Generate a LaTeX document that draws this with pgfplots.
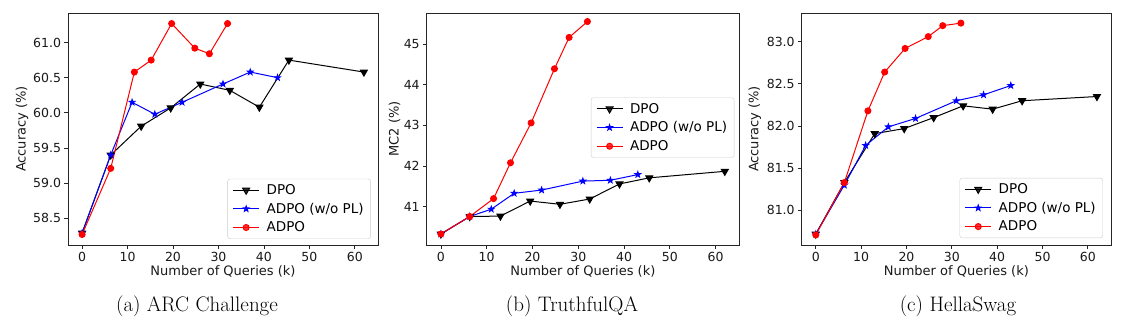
\documentclass[border=0pt]{standalone}
\usepackage{pgfplots}
\pgfplotsset{compat=1.18}
\usepackage{fontspec}
\newfontfamily\dejavu{DejaVu Sans}
\pgfdeclareplotmark{fstar}{%
 \pgfpathmoveto{\pgfpointpolar{90}{\pgfplotmarksize}}%
 \pgfpathlineto{\pgfpointpolar{126}{0.4\pgfplotmarksize}}%
 \pgfpathlineto{\pgfpointpolar{162}{\pgfplotmarksize}}%
 \pgfpathlineto{\pgfpointpolar{198}{0.4\pgfplotmarksize}}%
 \pgfpathlineto{\pgfpointpolar{234}{\pgfplotmarksize}}%
 \pgfpathlineto{\pgfpointpolar{270}{0.4\pgfplotmarksize}}%
 \pgfpathlineto{\pgfpointpolar{306}{\pgfplotmarksize}}%
 \pgfpathlineto{\pgfpointpolar{342}{0.4\pgfplotmarksize}}%
 \pgfpathlineto{\pgfpointpolar{18}{\pgfplotmarksize}}%
 \pgfpathlineto{\pgfpointpolar{54}{0.4\pgfplotmarksize}}%
 \pgfpathclose
 \pgfusepathqfillstroke}
\pgfplotsset{
  panel/.style={
    scale only axis, height=232pt,
    xmin=-3.1, xmax=65.1, xtick={0,10,...,60},
    axis line style={line width=0.8pt, black!85},
    tick align=outside, tick pos=left,
    major tick length=3.5pt, tick style={line width=0.8pt, black!85},
    /pgf/number format/assume math mode=true,
    tick label style={font=\dejavu\fontsize{12.5}{14}\selectfont, black!90},
    label style={font=\dejavu\fontsize{13}{15}\selectfont, black!90},
    xlabel={Number of Queries (k)},
    xlabel style={at={(axis description cs:0.5,-0.116)}, anchor=center},
    legend cell align=left,
    legend image code/.code={\draw[mark repeat=2,mark phase=2] plot coordinates {(0pt,0pt) (13pt,0pt) (26pt,0pt)};},
    legend style={font=\dejavu\fontsize{13.5}{15}\selectfont, draw=black!20, rounded corners=2.5pt,
       fill=white, fill opacity=0.8, text opacity=1, row sep=3pt, inner xsep=5pt, inner ysep=3.5pt,
       /tikz/every odd column/.append style={column sep=5pt}},
  },
  dpo/.style={black, line width=1pt, mark=triangle*, mark size=4pt, mark options={rotate=180, solid}},
  adpowo/.style={blue, line width=1pt, mark=fstar, mark size=2.9pt, mark options={solid}},
  adpo/.style={red, line width=1pt, mark=*, mark size=3pt, mark options={solid}},
}
\begin{document}
\begin{tikzpicture}
\useasboundingbox (0pt,0pt) rectangle (1143pt,330pt);
% (a) ARC Challenge
\begin{axis}[panel, at={(68pt,85pt)}, anchor=south west, width=310pt,
  ymin=58.12, ymax=61.42, ytick={58.5,59.0,59.5,60.0,60.5,61.0},
  yticklabel style={/pgf/number format/.cd, fixed, fixed zerofill, precision=1},
  ylabel={Accuracy (\%)},
  ylabel style={at={(axis description cs:-0.148,0.5)}, anchor=center},
  legend style={at={(axis description cs:0.977,0.026)}, anchor=south east}]
\addplot[dpo] coordinates {(0,58.29) (6.3,59.40) (13,59.81) (19.5,60.07) (26,60.41) (32.5,60.32) (39,60.08) (45.5,60.75) (62,60.58)};
\addplot[adpowo] coordinates {(0,58.29) (6.3,59.40) (11,60.15) (16,59.98) (22,60.15) (31,60.41) (37,60.58) (43,60.50)};
\addplot[adpo] coordinates {(0,58.27) (6.3,59.21) (11.5,60.58) (15.2,60.75) (19.7,61.27) (24.8,60.92) (28,60.84) (32,61.27)};
\legend{DPO, ADPO (w/o PL), ADPO}
\end{axis}
% (b) TruthfulQA
\begin{axis}[panel, at={(426.7pt,85pt)}, anchor=south west, width=312.3pt,
  ymin=40.06, ymax=45.76, ytick={41,42,43,44,45},
  ylabel={MC2 (\%)},
  ylabel style={at={(axis description cs:-0.103,0.5)}, anchor=center},
  legend style={at={(axis description cs:0.985,0.506)}, anchor=east}]
\addplot[dpo] coordinates {(0,40.33) (6.3,40.76) (13,40.77) (19.5,41.14) (26,41.06) (32.5,41.19) (39,41.56) (45.5,41.71) (62,41.87)};
\addplot[adpowo] coordinates {(0,40.33) (6.3,40.76) (11,40.94) (16,41.33) (22,41.41) (31,41.63) (37,41.65) (43,41.79)};
\addplot[adpo] coordinates {(0,40.33) (6.3,40.76) (11.5,41.20) (15.2,42.08) (19.7,43.06) (24.8,44.39) (28,45.16) (32,45.55)};
\legend{DPO, ADPO (w/o PL), ADPO}
\end{axis}
% (c) HellaSwag
\begin{axis}[panel, at={(801.7pt,85pt)}, anchor=south west, width=309.3pt,
  ymin=80.59, ymax=83.34, ytick={81.0,81.5,82.0,82.5,83.0},
  yticklabel style={/pgf/number format/.cd, fixed, fixed zerofill, precision=1},
  ylabel={Accuracy (\%)},
  ylabel style={at={(axis description cs:-0.152,0.5)}, anchor=center},
  legend style={at={(axis description cs:0.974,0.03)}, anchor=south east}]
\addplot[dpo] coordinates {(0,80.72) (6.3,81.33) (13,81.91) (19.5,81.97) (26,82.10) (32.5,82.24) (39,82.20) (45.5,82.30) (62,82.35)};
\addplot[adpowo] coordinates {(0,80.72) (6.3,81.30) (11,81.77) (16,81.99) (22,82.09) (31,82.30) (37,82.37) (43,82.48)};
\addplot[adpo] coordinates {(0,80.71) (6.3,81.33) (11.5,82.18) (15.2,82.64) (19.7,82.92) (24.8,83.06) (28,83.19) (32,83.22)};
\legend{DPO, ADPO (w/o PL), ADPO}
\end{axis}
\node[font=\fontsize{21}{24}\selectfont] at (197pt,24pt) {(a) ARC Challenge};
\node[font=\fontsize{21}{24}\selectfont] at (572pt,24pt) {(b) TruthfulQA};
\node[font=\fontsize{21}{24}\selectfont] at (958pt,24pt) {(c) HellaSwag};
\end{tikzpicture}
\end{document}
